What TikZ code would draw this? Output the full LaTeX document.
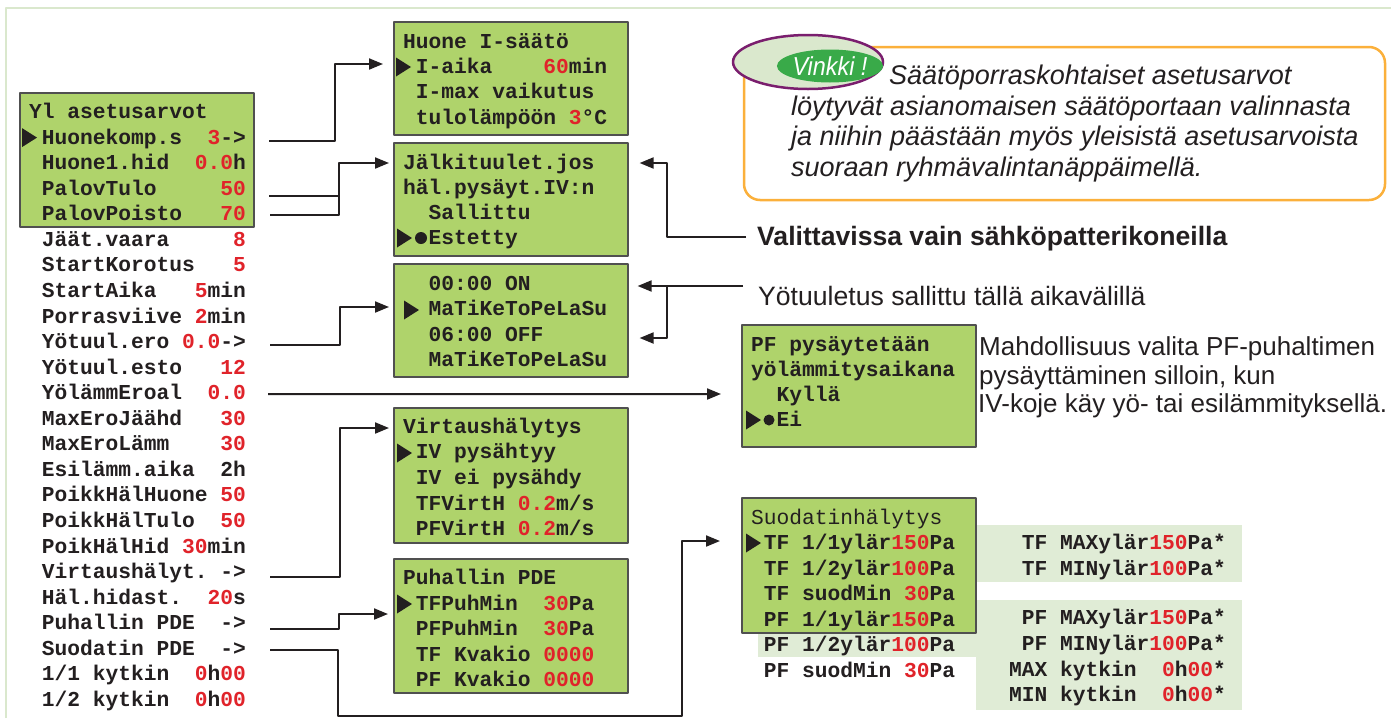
\documentclass[tikz,border=0pt]{standalone}
\usepackage{fontspec}
\setmainfont{Liberation Sans}
\newfontfamily\lcdfont{Liberation Mono}
\usetikzlibrary{arrows.meta,calc,shapes.geometric}
\definecolor{lcdgreen}{RGB}{175,211,107}
\definecolor{lcdedge}{RGB}{80,80,80}
\definecolor{lcdred}{RGB}{224,35,42}
\definecolor{ink}{RGB}{35,31,32}
\definecolor{pale}{RGB}{224,236,214}
\definecolor{rim}{RGB}{218,232,205}
\definecolor{tipor}{RGB}{251,176,59}
\definecolor{tippu}{RGB}{122,30,110}
\definecolor{tipgr}{RGB}{57,170,73}
\begin{document}
\begin{tikzpicture}[x=1pt,y=-1pt,line join=round,>={Triangle[length=14pt,width=11pt]},
  lcd/.style={draw=lcdedge,fill=lcdgreen,line width=1.6pt,minimum width=234pt,anchor=north west,inner sep=0pt},
  row/.style={anchor=mid west,inner sep=0pt,yshift=-3.5pt,text=ink,font=\lcdfont\bfseries\fontsize{21.25}{25}\selectfont\frenchspacing},
  link/.style={draw=ink,line width=2pt},
  note/.style={anchor=base west,inner sep=0pt,text=ink,font=\fontsize{26.6}{28}\selectfont},
  tip/.style={anchor=base west,inner sep=0pt,text=ink,font=\itshape\fontsize{27}{31}\selectfont}]
\def\val#1{\textcolor{lcdred}{#1}}
\def\ptr(#1,#2){\fill[ink] (#1,#2-9.5) -- (#1,#2+9.5) -- (#1+15,#2) -- cycle;}
\useasboundingbox (0,0) rectangle (1391,718);
\draw[rim,line width=2pt] (6,718) -- (6,8) -- (1391,8);
% vinkki
\draw[tipor,line width=2.5pt,rounded corners=16pt,fill=white] (744,47) rectangle (1385,200);
\node[ellipse,draw=tippu,line width=2.5pt,fill=rim,minimum width=150pt,minimum height=54pt] (ring) at (808,62) {};
\node[ellipse,fill=tipgr,minimum width=96pt,minimum height=33pt,inner sep=0pt,text=white,font=\itshape\fontsize{26}{26}\selectfont] (vinkki) at (830,66) {\scalebox{0.9}[1]{Vinkki !}};
\node[tip] (tip1) at (889,84) {Säätöporraskohtaiset asetusarvot};
\node[tip] (tip2) at (791,115) {löytyvät asianomaisen säätöportaan valinnasta};
\node[tip] (tip3) at (791,145) {ja niihin päästään myös yleisistä asetusarvoista};
\node[tip] (tip4) at (791,176) {suoraan ryhmävalintanäppäimellä.};
% notes
\node[note,font=\bfseries\fontsize{26.6}{28}\selectfont] (valit) at (757,245.5) {Valittavissa vain sähköpatterikoneilla};
\node[note] (yotu) at (758,305.5) {Yötuuletus sallittu tällä aikavälillä};
\node[note,font=\fontsize{26}{28}\selectfont] (mahd1) at (979,355) {Mahdollisuus valita PF-puhaltimen};
\node[note,font=\fontsize{26}{28}\selectfont] (mahd2) at (979,384) {pysäyttäminen silloin, kun};
\node[note,font=\fontsize{26}{28}\selectfont] (mahd3) at (978,412) {IV-koje käy yö- tai esilämmityksellä.};
% pale panels
\fill[pale] (976,525) rectangle (1242,582);
\fill[pale] (976,600) rectangle (1242,710);
\fill[pale] (758,600) rectangle (976,657);
% displays
\node[lcd,minimum height=134pt] (boxM) at (19,92) {};
\node[lcd,minimum height=113pt] (boxA) at (393,21) {};
\node[lcd,minimum height=113pt] (boxB) at (393,142) {};
\node[lcd,minimum height=113pt] (boxC) at (393,263) {};
\node[lcd,minimum height=135pt] (boxD) at (393,407) {};
\node[lcd,minimum height=134pt] (boxE) at (393,558) {};
\node[lcd,minimum height=122pt] (boxF) at (741,324) {};
\node[lcd,minimum height=135pt] (boxG) at (741,497) {};
% Yl asetusarvot
\node[row] (mt) at (29,112.5) {Yl~asetusarvot};
\foreach \t [count=\k] in {Huonekomp.s~~\val{3}->, Huone1.hid~~\val{0.0}h,
    PalovTulo~~~~~\val{50}, PalovPoisto~~~\val{70}, Jäät.vaara~~~~~\val{8},
    StartKorotus~~~\val{5}, StartAika~~~\val{5}min, Porrasviive~\val{2}min,
    Yötuul.ero~\val{0.0}->, Yötuul.esto~~~\val{12}, YölämmEroal~~\val{0.0},
    MaxEroJäähd~~~\val{30}, MaxEroLämm~~~~\val{30}, Esilämm.aika~~2h,
    PoikkHälHuone~\val{50}, PoikkHälTulo~~\val{50}, PoikHälHid~\val{30}min,
    Virtaushälyt.~->, Häl.hidast.~~\val{20}s, Puhallin~PDE~~->,
    Suodatin~PDE~~->, 1/1~kytkin~~\val{0}h\val{00}, 1/2~kytkin~~\val{0}h\val{00}}
  \node[row] (m\k) at (41.75,{112.5+25.55*\k}) {\t};
\ptr(22,137.6)
% Huone I-saato
\node[row] (a0) at (403,42) {Huone~I-säätö};
\node[row] (a1) at (403,67) {~I-aika~~~~\val{60}min};
\node[row] (a2) at (403,92) {~I-max~vaikutus};
\node[row] (a3) at (403,118) {~tulolämpöön~\val{3}°C};
\ptr(396,67)
% Jalkituulet
\node[row] (b0) at (403,163) {Jälkituulet.jos};
\node[row] (b1) at (403,188) {häl.pysäyt.IV:n};
\node[row] (b2) at (403,213) {~~Sallittu};
\node[row] (b3) at (403,238) {~~Estetty};
\ptr(397,238)
\fill[ink] (421,238) circle (6pt);
% yotuuletus
\node[row] (c0) at (403,284) {~~00:00~ON};
\node[row] (c1) at (403,309) {~~MaTiKeToPeLaSu};
\node[row] (c2) at (403,335) {~~06:00~OFF};
\node[row] (c3) at (403,360) {~~MaTiKeToPeLaSu};
\ptr(404,310)
% Virtaushalytys
\node[row] (d0) at (403,427) {Virtaushälytys};
\node[row] (d1) at (403,452) {~IV~pysähtyy};
\node[row] (d2) at (403,478) {~IV~ei~pysähdy};
\node[row] (d3) at (403,504) {~TFVirtH~\val{0.2}m/s};
\node[row] (d4) at (403,529) {~PFVirtH~\val{0.2}m/s};
\ptr(397,453)
% Puhallin PDE
\node[row] (e0) at (403,578) {Puhallin~PDE};
\node[row] (e1) at (403,604) {~TFPuhMin~~\val{30}Pa};
\node[row] (e2) at (403,629) {~PFPuhMin~~\val{30}Pa};
\node[row] (e3) at (403,655) {~TF~Kvakio~\val{0000}};
\node[row] (e4) at (403,680) {~PF~Kvakio~\val{0000}};
\ptr(397,604)
% PF pysaytetaan
\node[row] (f0) at (751,345) {PF~pysäytetään};
\node[row] (f1) at (751,370) {yölämmitysaikana};
\node[row] (f2) at (751,395) {~~Kyllä};
\node[row] (f3) at (751,420) {~~Ei};
\ptr(746,420)
\fill[ink] (769,420) circle (5.5pt);
% Suodatinhalytys
\node[row,font=\lcdfont\fontsize{21.25}{25}\selectfont] (g0) at (751,518) {Suodatinhälytys};
\foreach \t [count=\k] in {~TF~1/1ylär\val{150}Pa, ~TF~1/2ylär\val{100}Pa, ~TF~suodMin~\val{30}Pa,
    ~PF~1/1ylär\val{150}Pa, ~PF~1/2ylär\val{100}Pa, ~PF~suodMin~\val{30}Pa}
  \node[row] (g\k) at (751,{518+25.5*\k}) {\t};
\ptr(746,543)
\foreach \y/\t [count=\k] in {543/TF~MAXylär\val{150}Pa*, 569/TF~MINylär\val{100}Pa*,
    618/PF~MAXylär\val{150}Pa*, 644/PF~MINylär\val{100}Pa*,
    670/MAX~kytkin~~\val{0}h\val{00}*, 695/MIN~kytkin~~\val{0}h\val{00}*}
  \node[row,anchor=mid east] (h\k) at (1226,\y) {\t};
% connectors
\draw[link,->] ($(m1.mid east)+(23,-1)$) -- ++(66,0) |- ($(boxA.north west)+(-10,43)$);
\draw[link,->] ($(m4.mid east)+(24,-3.5)$) -- ++(69,0) coordinate (jB) |- ($(boxB.north west)+(-4,21)$);
\draw[link] ($(m3.mid east)+(23,3.5)$) -- ($(m3.mid east -| jB)+(0,3.5)$);
\draw[link,->] ($(m9.mid east)+(24,-1)$) -- ++(70,0) |- ($(boxC.north west)+(-4,44)$);
\draw[link,->] ($(m11.mid east)+(22,-3)$) -- ($(boxF.north west)+(-20,70)$);
\draw[link,->] ($(m18.mid east)+(24,1)$) -- ++(70,0) |- ($(boxD.north west)+(-4,21)$);
\draw[link,->] ($(m20.mid east)+(24,2)$) -- ++(69,0) |- ($(boxE.north west)+(-5,56)$);
\draw[link,->] ($(m21.mid east)+(24,-2.5)$) -- ++(68,0) -- ++(0,66) -| ($(boxG.north west)+(-59,44)$) -- ($(boxG.north west)+(-21,44)$);
\draw[link,->] ($(valit.base west)+(-11,-8.5)$) -- ++(-79,0) |- ($(boxB.north east)+(11,21)$);
\draw[link,->] ($(yotu.base west)+(-15,-19.5)$) -- ++(-76,0) coordinate (jC) -- ($(boxC.north east)+(9,23)$);
\draw[link,->] (jC) |- ($(boxC.north east)+(11,75)$);
\end{tikzpicture}
\end{document}
